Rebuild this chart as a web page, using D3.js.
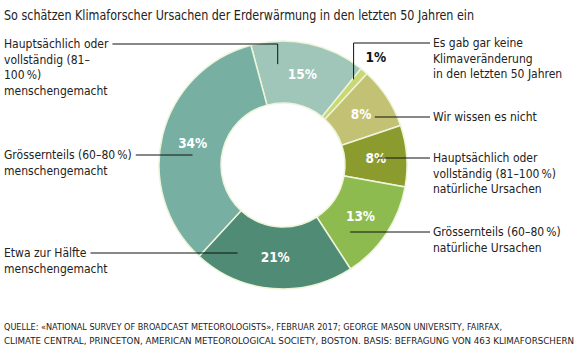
<!DOCTYPE html>
<html>
<head>
<meta charset="utf-8">
<script src="https://cdn.jsdelivr.net/npm/d3@7"></script>
<style>
  body { margin: 0; background: #fff; }
  text { font-family: "Liberation Sans Narrow", "DejaVu Sans Condensed", sans-serif; fill: #222; }
</style>
</head>
<body>
<script>
// Data
const categories = [
    "Hauptsächlich oder\nvollständig (81–\n100\u2009%)\nmenschengemacht",
    "Es gab gar keine\nKlimaveränderung\nin den letzten 50 Jahren",
    "Wir wissen es nicht",
    "Hauptsächlich oder\nvollständig (81–100\u2009%)\nnatürliche Ursachen",
    "Grössernteils (60–80\u2009%)\nnatürliche Ursachen",
    "Etwa zur Hälfte\nmenschengemacht",
    "Grössernteils (60–80\u2009%)\nmenschengemacht"
];
const values = [15, 1, 8, 8, 13, 21, 34];
const colors = ["#9fc6b8", "#c9d873", "#c3c274", "#8c9b2e", "#8dbb4f", "#4f8b75", "#77b0a3"];

const title = "So schätzen Klimaforscher Ursachen der Erderwärmung in den letzten 50 Jahren ein";
const sourceLines = [
    "QUELLE: «NATIONAL SURVEY OF BROADCAST METEOROLOGISTS», FEBRUAR 2017; GEORGE MASON UNIVERSITY, FAIRFAX,",
    "CLIMATE CENTRAL, PRINCETON, AMERICAN METEOROLOGICAL SOCIETY, BOSTON. BASIS: BEFRAGUNG VON 463 KLIMAFORSCHERN"
];

// Layout for the callouts (side, first text line y, leader anchor angle in degrees / radius)
const labelSide = ["left", "right", "right", "right", "right", "left", "left"];
const labelY = [44, 43, 117, 158, 232, 253, 155];
const anchorAngle = [-3, 39.5, 62, 87, 135, 207, 276];
const anchorRadius = [101, 111, 104, 95, 95, 100, 91];

const W = 583, H = 361;
const cx = 283, cy = 165;
const outerR = 124, innerR = 62;
const rad = Math.PI / 180;

const svg = d3.select("body").append("svg")
    .attr("width", W)
    .attr("height", H);

function fit(sel, w) {
    const len = sel.node().getComputedTextLength();
    if (Math.abs(len - w) > 2) sel.attr("textLength", w).attr("lengthAdjust", "spacingAndGlyphs");
}

// Title
svg.append("text")
    .attr("x", 4)
    .attr("y", 20)
    .style("font-size", "14.5px")
    .text(title)
    .call(fit, 470);

const pie = d3.pie()
    .sort(null)
    .value(d => d)
    .startAngle(-15 * rad)
    .endAngle(345 * rad);

const arcs = pie(values);

const arc = d3.arc()
    .innerRadius(innerR)
    .outerRadius(outerR);

const labelArc = d3.arc().innerRadius(93).outerRadius(93);
const outsideArc = d3.arc().innerRadius(142).outerRadius(142);

const g = svg.append("g").attr("transform", `translate(${cx},${cy})`);

g.selectAll("path.slice")
    .data(arcs)
    .enter().append("path")
    .attr("class", "slice")
    .attr("d", arc)
    .attr("fill", (d, i) => colors[i])
    .attr("stroke", "#eef4da")
    .attr("stroke-width", 1.5);

// Leader lines and category labels
const lines = svg.append("g").attr("stroke", "#111").attr("stroke-width", 1).attr("fill", "none");

arcs.forEach((d, i) => {
    const a = anchorAngle[i] * rad;
    const ax = cx + anchorRadius[i] * Math.sin(a);
    const ay = cy - anchorRadius[i] * Math.cos(a);
    const y0 = labelY[i];
    const side = labelSide[i];
    const tx = side === "left" ? 4 : 433;

    const t = svg.append("text")
        .attr("x", tx)
        .attr("y", y0)
        .style("font-size", "12px");
    categories[i].split("\n").forEach((ln, k) => {
        t.append("tspan")
            .attr("x", tx)
            .attr("dy", k === 0 ? "0.35em" : "15.5px")
            .text(ln);
    });

    if (side === "left") {
        const firstW = t.select("tspan").node().getComputedTextLength();
        const sx = 4 + firstW + 4;
        if (Math.abs(ay - y0) > 3) {
            lines.append("path").attr("d", `M${sx},${y0}H${ax}V${ay}`);
        } else {
            lines.append("path").attr("d", `M${sx},${y0}H${ax}`);
        }
    } else {
        if (Math.abs(ay - y0) > 3) {
            lines.append("path").attr("d", `M${ax},${ay}V${y0}H430`);
        } else {
            lines.append("path").attr("d", `M${ax},${y0}H430`);
        }
    }
});

// Percentage labels
g.selectAll("text.pct")
    .data(arcs)
    .enter().append("text")
    .attr("class", "pct")
    .attr("transform", d => `translate(${(d.data < 3 ? outsideArc : labelArc).centroid(d)})`)
    .attr("text-anchor", "middle")
    .attr("dy", "0.35em")
    .style("font-size", "13.5px")
    .style("font-weight", "bold")
    .style("fill", d => d.data < 3 ? "#111" : "#fff")
    .text(d => d.data + "%");

// Source
sourceLines.forEach((s, i) => {
    svg.append("text")
        .attr("x", 4)
        .attr("y", 330 + i * 13.5)
        .style("font-size", "9.5px")
        .text(s)
        .call(fit, i === 0 ? 498 : 570);
});
</script>
</body>
</html>
